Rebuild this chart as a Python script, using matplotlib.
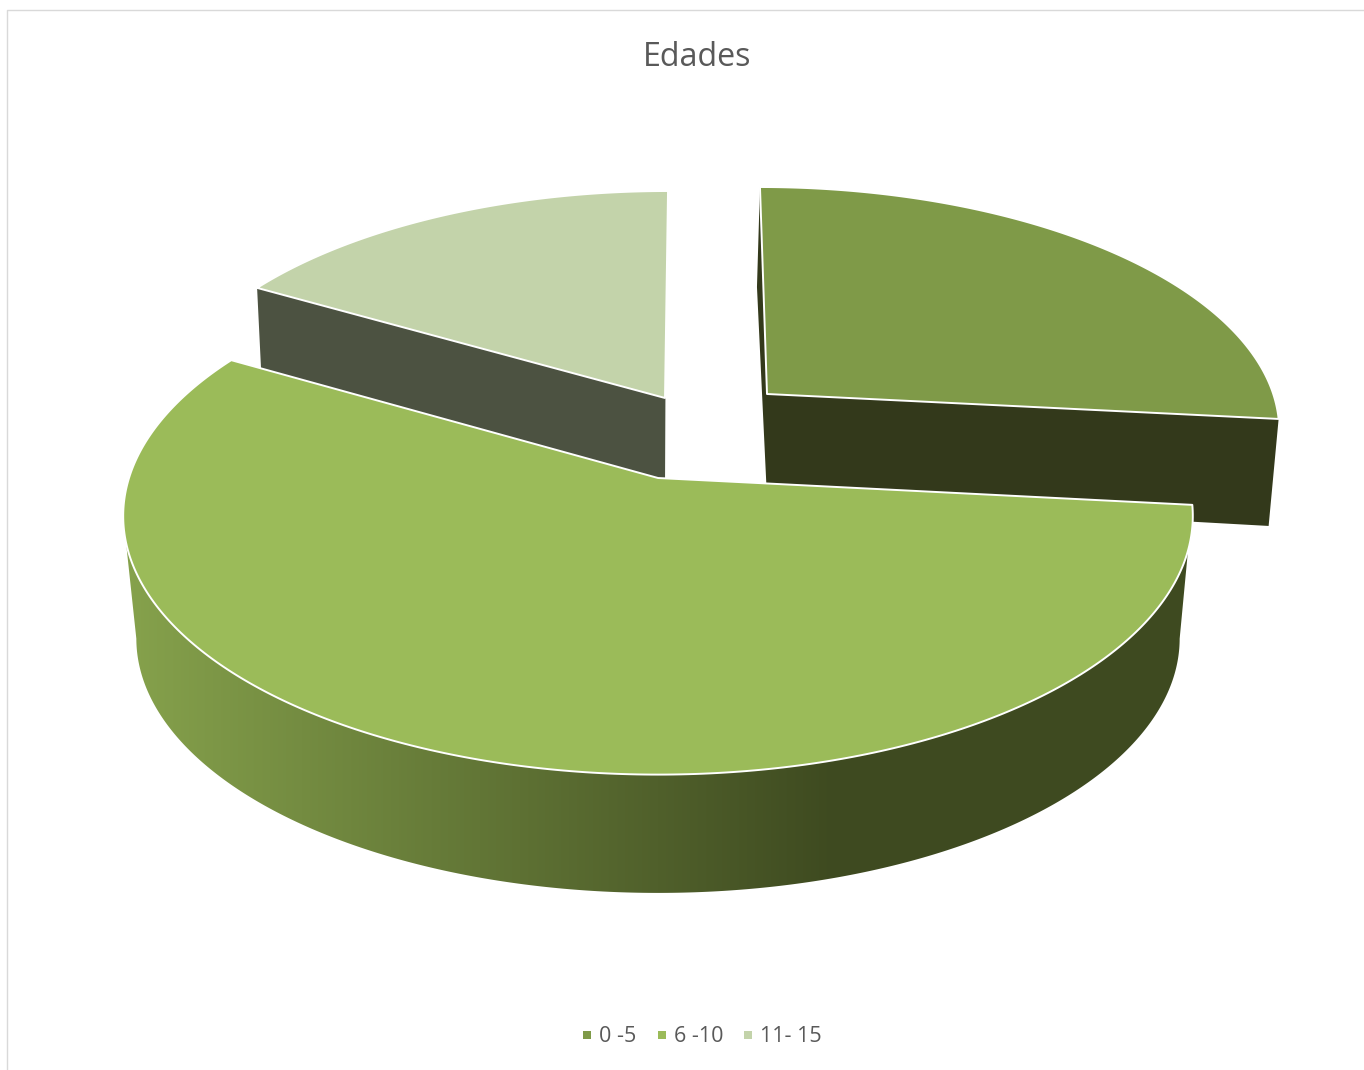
import numpy as np
import matplotlib
matplotlib.use("Agg")
import matplotlib.pyplot as plt
from matplotlib.colors import to_rgb
from matplotlib.patches import Polygon

# Chart data
title = "Edades"
categories = ["0 -5", "6 -10", "11- 15"]
values = [16, 34, 10]
top_colors = ["#7F9A48", "#9BBB59", "#C3D3AA"]
cut_colors = ["#33391B", "#3E4A20", "#4C5241"]

W, H = 1364, 1070

# how far each slice is pulled out of the pie, in pixels
explode_x = [109, 0, 7]
explode_y = [-84, 0, -80]
# pulled out slices come out a bit smaller and lean slightly
radius_x = [0.957, 1.0, 0.955]
radius_y = [0.93, 1.0, 0.93]
skew = [-8.6, 0, 3.7]
# height of the flat cut faces: at the pie centre, at the rim, and rim shift in x
depth_inner = [104, 0, 90]
depth_outer_start = [100, 0, 82]
shift_outer_start = [-3, 0, 4]
depth_outer_end = [107, 0, 80]
shift_outer_end = [-10, 0, -2]

# perspective of the top face and of the bottom face
CX, CY = 658, 478
TOP_A, TOP_B, TOP_K = 529, 253, 0.147
BOT_CX, BOT_Y0, BOT_A, BOT_B = 658, 601, 516, 249


def top_xy(x, y, i=1):
    w = 1 + TOP_K * y
    return (CX + explode_x[i] + (TOP_A * x + skew[i] * y) / w,
            CY + explode_y[i] - TOP_B * y / w)


def bot_xy(x, y):
    w = 1 + TOP_K * y
    return BOT_CX + BOT_A * x / w, BOT_Y0 - BOT_B * y / w


def arc(theta1, theta2, i, n=300):
    t = np.radians(np.linspace(theta1, theta2, n))
    return radius_x[i] * np.sin(t), radius_y[i] * np.cos(t)


def draw_cut_faces(ax, i, theta1, theta2):
    cx, cy = top_xy(0, 0, i)
    for th, depth, shift in ((theta1, depth_outer_start[i], shift_outer_start[i]),
                             (theta2, depth_outer_end[i], shift_outer_end[i])):
        ox, oy = arc(th, th, i, n=1)
        px, py = top_xy(ox[0], oy[0], i)
        ax.fill([cx, px, px + shift, cx],
                [cy, py, py + depth, cy + depth_inner[i]],
                color=cut_colors[i], lw=0, zorder=2 + i * 0.1)


def draw_top(ax, i, theta1, theta2):
    x, y = arc(theta1, theta2, i)
    tx, ty = top_xy(x, y, i)
    cx, cy = top_xy(0, 0, i)
    ax.fill(np.r_[cx, tx], np.r_[cy, ty], facecolor=top_colors[i], edgecolor="white",
            lw=1.4, joinstyle="round", zorder=4 if i == 1 else 2.5)


def draw_wall(ax, theta1, theta2):
    # outer wall of the main slice, gradient runs left to right
    x, y = arc(theta1, theta2, 1)
    tx, ty = top_xy(x, y)
    # the bottom rim starts where the ellipse is widest, so no kink on the right
    x, y = arc(98.5, theta2, 1)
    bx, by = bot_xy(x, y)
    light = np.array(to_rgb("#86A24C"))
    dark = np.array(to_rgb("#3E4A20"))
    f = np.clip((np.arange(W) - 124) / (835 - 124), 0, 1)[None, :, None]
    grad = light[None, None, :] + (dark - light)[None, None, :] * f
    img = ax.imshow(grad, extent=[0, W, H, 0], aspect="auto", zorder=3)
    clip = Polygon(np.c_[np.r_[tx, bx[::-1]], np.r_[ty, by[::-1]]], closed=True,
                   transform=ax.transData)
    img.set_clip_path(clip)


fig = plt.figure(figsize=(W / 100, H / 100), dpi=100)
ax = fig.add_axes([0, 0, 1, 1])
ax.axis("off")

# chart frame
ax.plot([7, 7, W], [H, 10, 10], color="#D9D9D9", lw=1, zorder=1)

start = 0.0
angles = []
for v in values:
    angles.append((start, start + v / sum(values) * 360))
    start += v / sum(values) * 360

for i in (0, 2):
    draw_cut_faces(ax, i, *angles[i])
    draw_top(ax, i, *angles[i])

# the wall only shows between the two side extremes of the ellipse
draw_wall(ax, angles[1][0], 261.5)
draw_top(ax, 1, *angles[1])

ax.text(697, 57, title, ha="center", va="center", fontsize=23.2,
        family="Open Sans", color="#595959")

# legend
legend_x = [587, 661.5, 748]
for i, name in enumerate(categories):
    ax.scatter(legend_x[i], 1035, marker="s", s=33, color=top_colors[i], lw=0, zorder=5)
    ax.text(legend_x[i] + 12, 1037, name, ha="left", va="center", fontsize=15.5,
            family="Open Sans", color="#595959")

ax.set_xlim(0, W)
ax.set_ylim(H, 0)

fig.savefig("out.png", dpi=100)
